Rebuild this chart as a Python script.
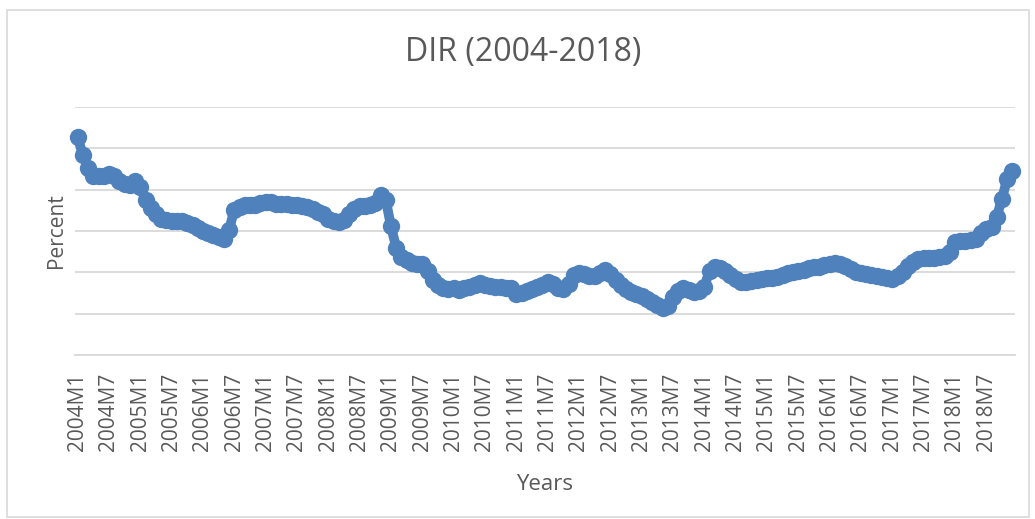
import numpy as np, pandas as pd, matplotlib.pyplot as plt, seaborn as sns
from matplotlib.patches import Rectangle

# monthly DIR 2004M1..2018M12 (percent)
years = list(range(2004, 2019))
months = [f"{y}M{m}" for y in years for m in range(1, 13)]
dir_2004_2006 = [26.4, 24.2, 22.6, 21.6, 21.6, 21.7, 21.9, 21.6, 21.1, 20.7, 20.6, 21.0,
                 20.3, 18.8, 17.8, 17.0, 16.5, 16.3, 16.2, 16.2, 16.2, 16.0, 15.7, 15.4,
                 15.0, 14.8, 14.5, 14.3, 14.0, 15.1, 17.6, 17.9, 18.1, 18.2, 18.2, 18.4]
dir_2007_2009 = [18.5, 18.5, 18.3, 18.3, 18.3, 18.2, 18.2, 18.0, 17.9, 17.7, 17.3, 17.0,
                 16.5, 16.2, 16.1, 16.3, 17.1, 17.7, 18.0, 18.0, 18.2, 18.4, 19.3, 18.8,
                 15.6, 13.0, 11.9, 11.5, 11.1, 11.0, 11.0, 10.2, 9.1, 8.5, 8.1, 8.0]
dir_2010_2012 = [8.1, 7.9, 8.1, 8.2, 8.5, 8.7, 8.5, 8.4, 8.2, 8.2, 8.1, 8.1,
                 7.4, 7.5, 7.8, 8.0, 8.2, 8.5, 8.8, 8.6, 8.1, 8.0, 8.6, 9.7,
                 9.9, 9.8, 9.6, 9.6, 9.9, 10.3, 9.8, 9.1, 8.5, 8.0, 7.6, 7.4]
dir_2013_2015 = [7.1, 6.8, 6.4, 6.1, 5.7, 5.9, 7.0, 7.8, 8.1, 7.9, 7.6, 7.8,
                 8.2, 10.2, 10.7, 10.5, 10.2, 9.7, 9.2, 8.8, 8.8, 9.0, 9.1, 9.2,
                 9.3, 9.3, 9.4, 9.7, 9.9, 10.1, 10.2, 10.3, 10.5, 10.7, 10.7, 10.9]
dir_2016_2018 = [11.0, 11.1, 11.0, 10.8, 10.4, 10.1, 9.9, 9.8, 9.7, 9.6, 9.4, 9.3,
                 9.2, 9.6, 10.1, 10.8, 11.3, 11.6, 11.7, 11.7, 11.7, 11.9, 12.0, 12.4,
                 13.7, 13.8, 13.8, 13.9, 14.0, 14.8, 15.3, 15.5, 16.7, 18.9, 21.3, 22.2]
dir_values = dir_2004_2006 + dir_2007_2009 + dir_2010_2012 + dir_2013_2015 + dir_2016_2018

df = pd.DataFrame({"idx": range(len(months)), "month": months, "DIR": dir_values})

sns.set_theme(style="white")
plt.rcParams["font.family"] = ["Open Sans", "DejaVu Sans"]
text_c = "#595959"

fig = plt.figure(figsize=(10.35, 5.19), dpi=100)
ax = fig.add_axes([75 / 1035, 1 - 355 / 519, 940 / 1035, 248 / 519])
fig.patches.append(Rectangle((6.5 / 1035, 2 / 519), 1022 / 1035, 507.5 / 519,
                             transform=fig.transFigure, fill=False, ec="#D9D9D9", lw=1.2))

sns.lineplot(data=df, x="idx", y="DIR", ax=ax, color="#4F81BD", lw=7,
             marker="o", markersize=12.5, markeredgewidth=0, zorder=3, clip_on=False)

ax.set_xlim(-0.5, len(months) - 0.5)
ax.set_ylim(0, 30)
ax.set_yticks(np.arange(0, 31, 5))
ax.yaxis.grid(True, color="#D9D9D9", lw=1.3)
ax.tick_params(axis="y", left=False, labelleft=False)
ax.set_xticks(df["idx"][::6])
ax.set_xticklabels(df["month"][::6], rotation=90, fontsize=15, color=text_c)
ax.tick_params(axis="x", bottom=False, pad=7)
for s in ["top", "right", "left"]:
    ax.spines[s].set_visible(False)
ax.spines["bottom"].set_color("#D9D9D9")
ax.spines["bottom"].set_linewidth(1.3)

ax.set_xlabel("Years", fontsize=16, color=text_c, labelpad=16)
ax.set_ylabel("Percent", fontsize=15, color=text_c, labelpad=6)
fig.text(523 / 1035, 1 - 52 / 519, "DIR (2004-2018)", ha="center", va="center",
         fontsize=23, color=text_c)

fig.savefig("out.png", dpi=100)
